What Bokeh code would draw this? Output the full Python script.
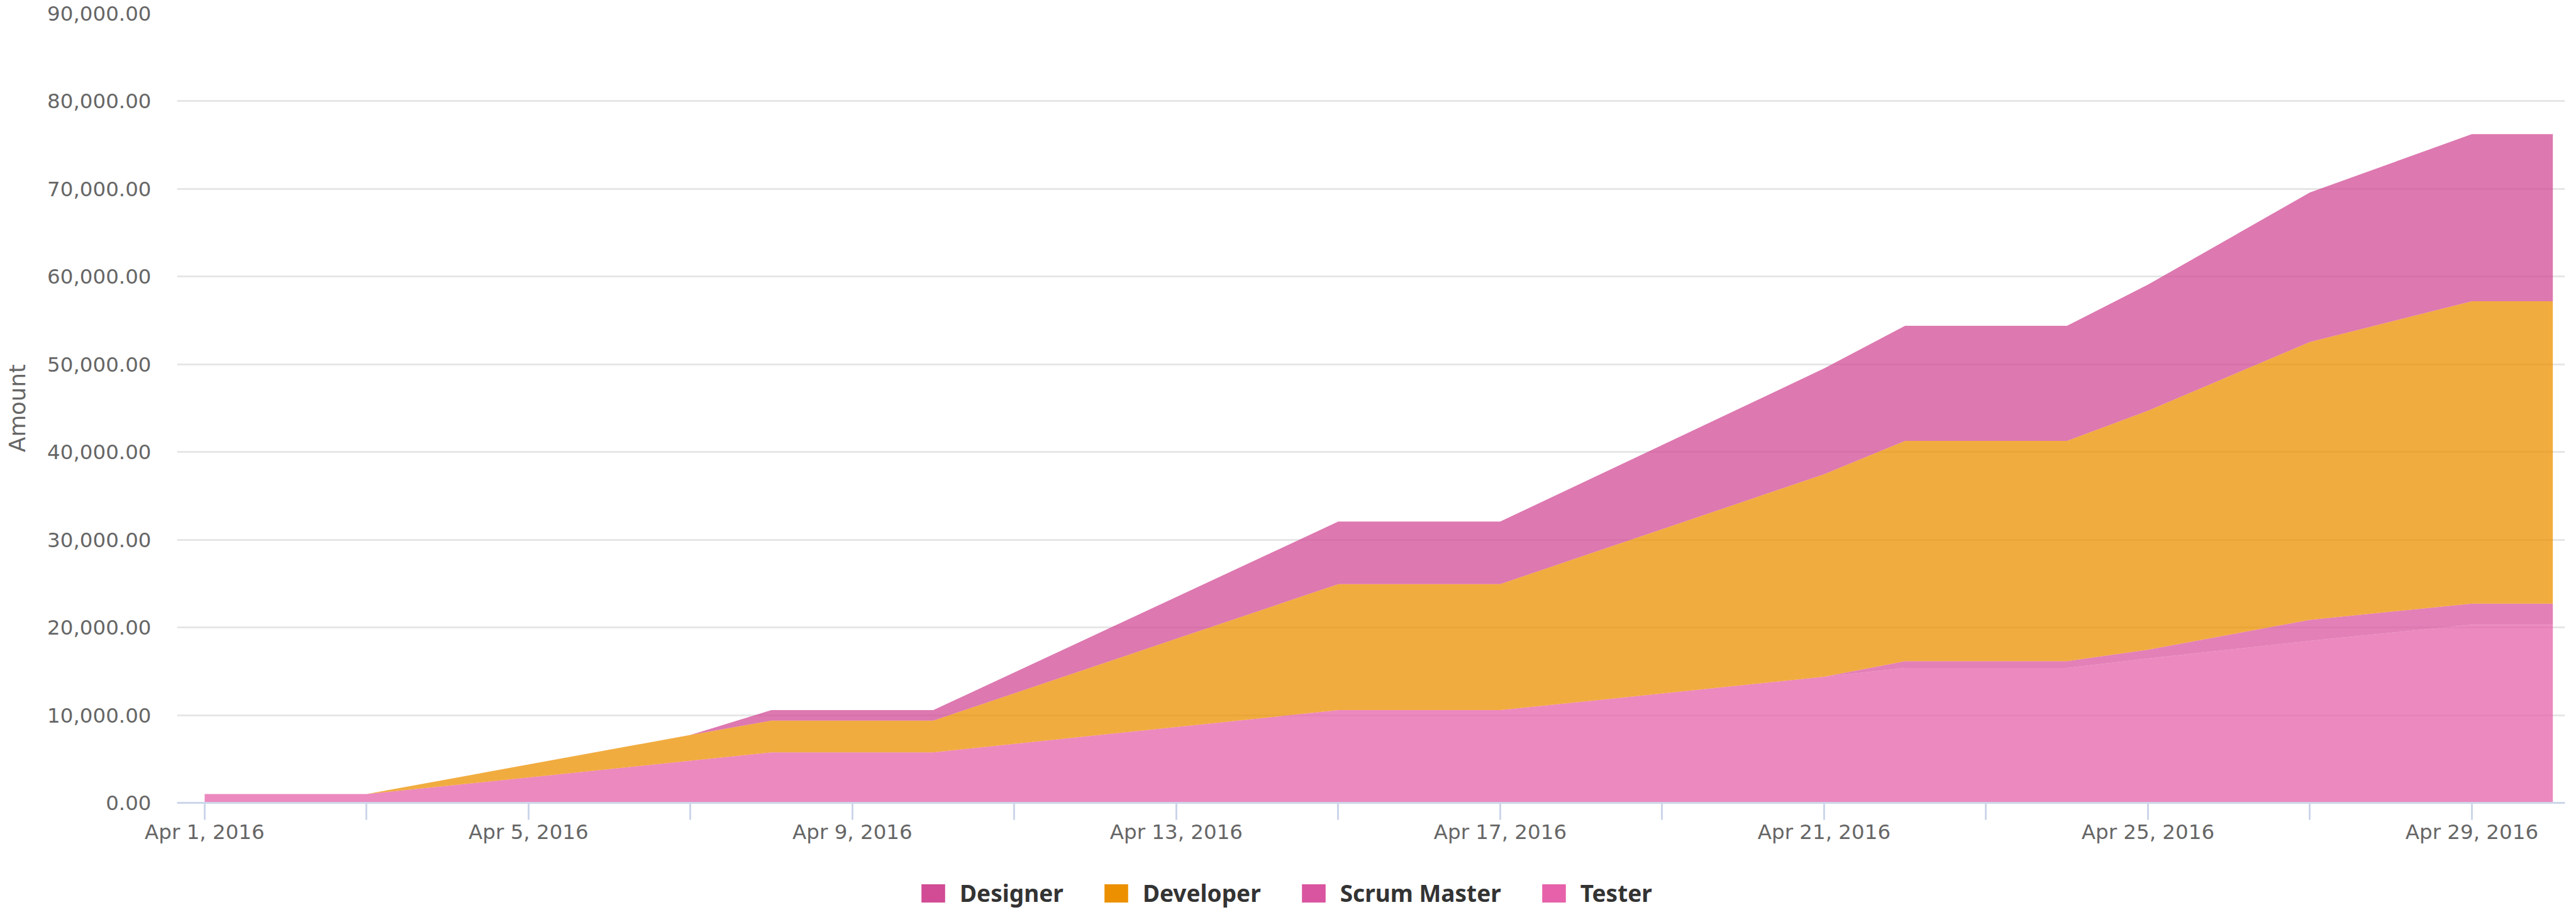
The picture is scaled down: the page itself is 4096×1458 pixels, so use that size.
import pandas as pd
from bokeh.plotting import figure
from bokeh.layouts import column
from bokeh.models import (ColumnDataSource, FixedTicker, CustomJSTickFormatter,
                          NumeralTickFormatter, Legend, LegendItem, Range1d)
from bokeh.embed import file_html
from bokeh.resources import INLINE

# ---- data ----
dates = ["2016-04-01", "2016-04-03", "2016-04-07", "2016-04-08", "2016-04-10",
         "2016-04-15", "2016-04-17", "2016-04-21", "2016-04-22", "2016-04-24",
         "2016-04-25", "2016-04-27", "2016-04-29", "2016-04-30"]
tester = [1000, 1000, 4800, 5760, 5760, 10570, 10570, 14370, 15380, 15380,
          16450, 18470, 20310, 20310]
scrum_master = [0, 0, 0, 0, 0, 0, 0, 0, 770, 770, 1010, 2400, 2400, 2400]
developer = [0, 0, 2950, 3620, 3620, 14370, 14370, 23100, 25120, 25120,
             27260, 31680, 34480, 34480]
designer = [0, 0, 0, 1190, 1190, 7130, 7130, 12060, 13120, 13120,
            14370, 17050, 19060, 19060]

series_names = ["Designer", "Developer", "Scrum Master", "Tester"]
series_colors = ["#d14b95", "#ec9000", "#d955a0", "#e661aa"]

major_tick_dates = ["2016-04-01", "2016-04-05", "2016-04-09", "2016-04-13",
                    "2016-04-17", "2016-04-21", "2016-04-25", "2016-04-29"]
minor_tick_dates = ["2016-04-03", "2016-04-07", "2016-04-11", "2016-04-15",
                    "2016-04-19", "2016-04-23", "2016-04-27"]
y_ticks = [0, 10000, 20000, 30000, 40000, 50000, 60000, 70000, 80000, 90000]

DAY = 86400000.0


def ms(s):
    return pd.Timestamp(s).value / 1e6


x = [ms(d) for d in dates]
src = ColumnDataSource(dict(x=x, Tester=tester, ScrumMaster=scrum_master,
                            Developer=developer, Designer=designer))

W = 4080
H_MAIN = 1351
H_LEG = 97

p = figure(width=W, height=H_MAIN, output_backend="svg", toolbar_location=None,
           x_axis_type="datetime",
           x_range=Range1d(ms("2016-04-01") - 0.341 * DAY, ms("2016-04-30") + 0.15 * DAY),
           y_range=Range1d(0, 90000),
           min_border_left=281, min_border_right=2, min_border_top=21,
           min_border_bottom=75)
p.outline_line_color = None
p.background_fill_color = "white"
p.border_fill_color = "white"

# stacked areas: bottom to top = Tester, Scrum Master, Developer, Designer
stack_cols = ["Tester", "ScrumMaster", "Developer", "Designer"]
stack_colors = [series_colors[3], series_colors[2], series_colors[1], series_colors[0]]
p.varea_stack(stackers=stack_cols, x="x", source=src, color=stack_colors,
              fill_alpha=0.75)

# axes
p.xgrid.grid_line_color = None
p.ygrid.grid_line_color = "#e6e6e6"
p.ygrid.grid_line_width = 3

p.yaxis.ticker = FixedTicker(ticks=y_ticks)
p.yaxis.formatter = NumeralTickFormatter(format="0,0.00")
p.yaxis.axis_line_color = None
p.yaxis.major_tick_line_color = None
p.yaxis.minor_tick_line_color = None
p.yaxis.major_label_standoff = 35
p.yaxis.major_label_text_font = "DejaVu Sans"
p.yaxis.major_label_text_font_size = "32.5px"
p.yaxis.major_label_text_color = "#666666"
p.yaxis.axis_label = "Amount"
p.yaxis.axis_label_text_font = "DejaVu Sans"
p.yaxis.axis_label_text_font_size = "35.6px"
p.yaxis.axis_label_text_font_style = "normal"
p.yaxis.axis_label_text_color = "#666666"
p.yaxis.axis_label_standoff = 24

p.xaxis.ticker = FixedTicker(ticks=[ms(d) for d in major_tick_dates],
                             minor_ticks=[ms(d) for d in minor_tick_dates])
p.xaxis.formatter = CustomJSTickFormatter(code="""
const m = ["Jan","Feb","Mar","Apr","May","Jun","Jul","Aug","Sep","Oct","Nov","Dec"];
const d = new Date(tick);
return m[d.getUTCMonth()] + " " + d.getUTCDate() + ", " + d.getUTCFullYear();
""")
p.xaxis.axis_line_color = "#ccd6eb"
p.xaxis.axis_line_width = 3
p.xaxis.major_tick_line_color = "#ccd6eb"
p.xaxis.major_tick_line_width = 3
p.xaxis.major_tick_in = 0
p.xaxis.major_tick_out = 27
p.xaxis.minor_tick_line_color = "#ccd6eb"
p.xaxis.minor_tick_line_width = 3
p.xaxis.minor_tick_in = 0
p.xaxis.minor_tick_out = 27
p.xaxis.major_label_standoff = 0
p.xaxis.major_label_text_font = "DejaVu Sans"
p.xaxis.major_label_text_font_size = "32.5px"
p.xaxis.major_label_text_color = "#666666"

# legend strip below the chart, solid swatches
pl = figure(width=W, height=H_LEG, output_backend="svg", toolbar_location=None,
            x_axis_location=None, y_axis_location=None, min_border=0,
            x_range=Range1d(0, 1), y_range=Range1d(0, 1))
pl.outline_line_color = None
pl.grid.visible = False
pl.background_fill_color = "white"
pl.border_fill_color = "white"

items = []
for name, col in zip(series_names, series_colors):
    # legend-only renderers, placed outside the visible range
    r = pl.varea(x=[5, 6], y1=[5, 5], y2=[6, 6], fill_color=col, fill_alpha=1.0)
    items.append(LegendItem(label=name, renderers=[r]))
legend = Legend(items=items, orientation="horizontal", location=(1179, 3),
                glyph_width=47, glyph_height=36, label_standoff=19, spacing=60,
                padding=0, margin=0, border_line_color=None,
                background_fill_alpha=0,
                label_text_font="Noto Sans", label_text_font_style="bold",
                label_text_font_size="37px", label_text_color="#333333")
pl.add_layout(legend, "center")

layout = column(p, pl, spacing=0)
open("out.html", "w").write(file_html(layout, INLINE))
